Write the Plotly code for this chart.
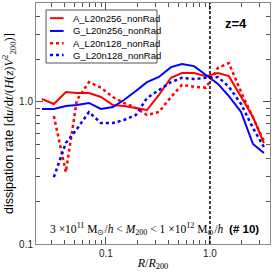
import plotly.graph_objects as go

# radius bins R/R200
r = [0.0243, 0.0316, 0.0412, 0.0526, 0.0687, 0.0895, 0.1167, 0.149, 0.194, 0.248,
     0.323, 0.422, 0.538, 0.702, 0.916, 1.194, 1.52, 1.99, 2.59, 3.30]
r_lo = r[1:]

a_256 = [1.05, 0.968, 1.176, 1.157, 1.157, 1.084, 0.952, 0.937, 0.907, 0.878,
         1.12, 1.48, 1.60, 1.60, 1.52, 1.60, 1.52, 1.10, 0.784, 0.514]
g_256 = [0.893, 0.893, 0.937, 0.952, 0.984, 0.893, 0.922, 1.033, 1.195, 1.38,
         1.50, 1.76, 1.85, 1.79, 1.55, 1.34, 1.10, 0.85, 0.506, 0.437]
a_128 = [0.797, 0.321, 1.033, 1.38, 1.26, 1.084, 0.984, 0.907, 0.81,
         0.85, 1.084, 1.32, 1.28, 1.26, 1.74, 1.88, 1.176, 0.772, 0.53]
g_128 = [0.296, 0.514, 0.645, 0.85, 0.711, 0.711, 0.747, 0.81, 1.067,
         1.215, 1.38, 1.48, 1.45, 1.48, 1.50, 1.28, 0.968, 0.656, 0.482]

names = ["A_L20n256_nonRad", "G_L20n256_nonRad", "A_L20n128_nonRad", "G_L20n128_nonRad"]
colors = ["#ff0000", "#0000ff", "#ff0000", "#0000ff"]
dashes = ["solid", "solid", "dot", "dot"]
widths = [2, 2, 2.5, 2.5]

x_major = [0.1, 1.0]
x_major_text = ["0.1", "1.0"]
y_major = [0.1, 1.0]
y_major_text = ["0.1", "1.0"]
x_minor = [0.03, 0.04, 0.05, 0.06, 0.07, 0.08, 0.09, 0.2, 0.3, 0.4, 0.5, 0.6, 0.7, 0.8, 0.9, 2, 3]
y_minor = [0.2, 0.3, 0.4, 0.5, 0.6, 0.7, 0.8, 0.9, 2, 3, 4]

SANS = "Liberation Sans, Arial, sans-serif"
SERIF = "Liberation Serif, serif"

fig = go.Figure()
for xs, ys, nm, c, d, w in zip([r, r, r_lo, r_lo], [a_256, g_256, a_128, g_128],
                               names, colors, dashes, widths):
    fig.add_trace(go.Scatter(x=xs, y=ys, mode="lines", name=nm, showlegend=False,
                             line=dict(color=c, width=w, dash=d)))

fig.add_shape(type="line", xref="x", yref="paper", x0=1.0, x1=1.0, y0=0, y1=1,
              line=dict(color="black", width=1.5, dash="3px,2px"))

# manual legend (box, samples, labels)
fig.add_shape(type="rect", xref="paper", yref="paper", x0=0.043, x1=0.517, y0=0.751, y1=0.971,
              line=dict(color="#555555", width=1), fillcolor="white", layer="above")
leg_y = [0.937, 0.884, 0.833, 0.784]
for ly, nm, c, d, w in zip(leg_y, names, colors, dashes, widths):
    fig.add_shape(type="line", xref="paper", yref="paper", x0=0.060, x1=0.118, y0=ly, y1=ly,
                  line=dict(color=c, width=w, dash=d), layer="above")
    fig.add_annotation(xref="paper", yref="paper", x=0.150, y=ly, text=nm, xanchor="left",
                       yanchor="middle", showarrow=False,
                       font=dict(family=SANS, size=9.5, color="black"))

axis_common = dict(
    type="log", showgrid=False, zeroline=False, showline=True, automargin=False,
    linecolor="#888888", linewidth=1, mirror="ticks",
    ticks="inside", ticklen=7, tickcolor="#555555", tickwidth=1,
    tickfont=dict(family=SANS, size=10, color="#222222"),
)

fig.update_xaxes(
    range=[-1.672, 0.577], tickmode="array", tickvals=x_major, ticktext=x_major_text,
    minor=dict(tickmode="array", tickvals=x_minor, ticks="inside", ticklen=4,
               tickcolor="#555555", showgrid=False),
    title=dict(text="<i>R</i>/<i>R</i><sub>200</sub>",
               font=dict(family=SERIF, size=12, color="black"), standoff=0),
    **axis_common)
fig.update_yaxes(
    range=[-1.0, 0.697], tickmode="array", tickvals=y_major, ticktext=y_major_text,
    minor=dict(tickmode="array", tickvals=y_minor, ticks="inside", ticklen=4,
               tickcolor="#555555", showgrid=False),
    title=dict(text="dissipation rate <span style='font-family:Liberation Serif'>[d<i>u</i>/d<i>t</i>/(<i>H</i>(<i>z</i>)<i>V</i><sup>2</sup><sub>200</sub>)]</span>",
               font=dict(family=SANS, size=12.5, color="black"), standoff=2),
    **axis_common)

fig.add_annotation(xref="paper", yref="paper", x=0.855, y=0.917, text="<b>z=4</b>",
                   xanchor="center", yanchor="middle",
                   showarrow=False, font=dict(family=SANS, size=13, color="black"))
fig.add_annotation(xref="paper", yref="paper", x=0.505, y=0.062,
                   xanchor="center", yanchor="middle",
                   text="3 ×10<sup>11</sup> M<sub>⊙</sub>/<i>h</i> &lt; <i>M</i><sub>200</sub> &lt; 1 ×10<sup>12</sup> M<sub>⊙</sub>/<i>h</i>  <span style='font-family:Liberation Sans'><b>(# 10)</b></span>",
                   showarrow=False, font=dict(family=SERIF, size=11.5, color="black"))

fig.update_layout(
    width=274, height=273,
    margin=dict(l=36, r=4, t=3, b=29, autoexpand=False),
    paper_bgcolor="white", plot_bgcolor="white",
    showlegend=False,
)

fig.write_html("out.html", config={"displayModeBar": False, "staticPlot": True},
               post_script="document.body.style.margin='0';")
